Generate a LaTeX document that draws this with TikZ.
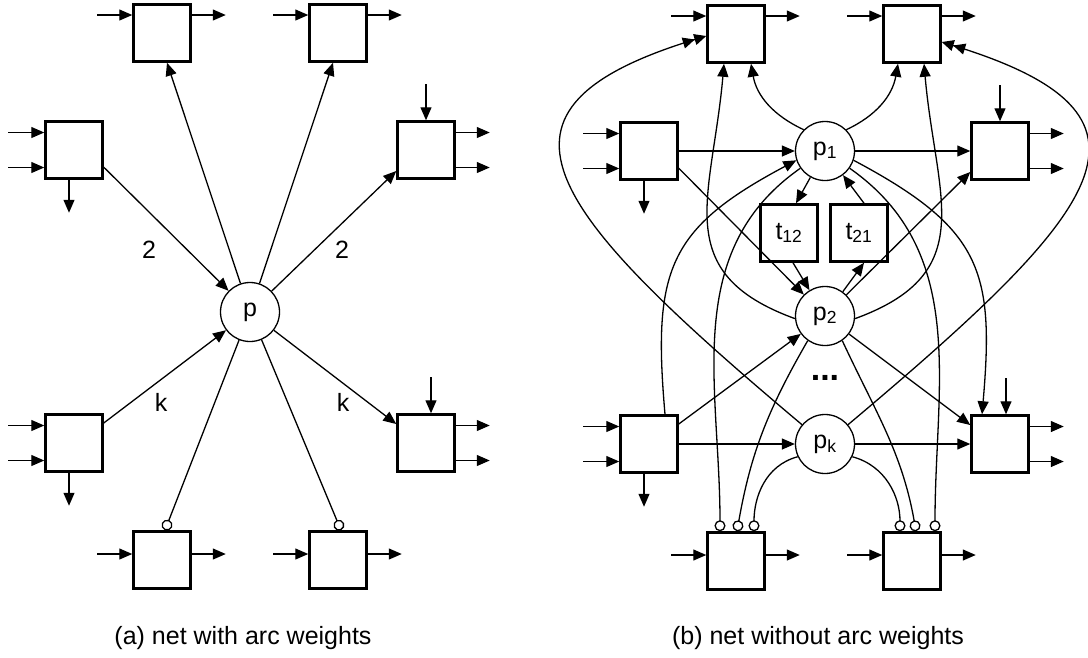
\documentclass[tikz,border=0pt]{standalone}
\usepackage{fontspec}
\setmainfont{Liberation Sans}
\usetikzlibrary{arrows.meta}

\begin{document}
\begin{tikzpicture}[x=1pt, y=-1pt, line width=1.3pt,
    >={Triangle[length=13pt,width=11pt]},
    font=\fontsize{25}{30}\selectfont,
    trans/.style={draw, rectangle, line width=2.5pt, minimum size=57pt, inner sep=0pt},
    place/.style={draw, circle, line width=1.3pt, minimum size=59pt, inner sep=0pt},
    inh/.style={-{Circle[open,length=11pt]}},
    dbl/.style={-{Triangle[length=12pt,width=11pt]Triangle[length=12pt,width=11pt]}}]
  \useasboundingbox (0,0) rectangle (1088,657);

  % (a) net with arc weights
  \node[trans] (ta1) at (162,33) {};
  \node[trans] (ta2) at (338,33) {};
  \node[trans] (lma) at (74,150) {};
  \node[trans] (rma) at (426,150) {};
  \node[place] (p) at (250,312) {p};
  \node[trans] (lla) at (74,443) {};
  \node[trans] (lra) at (426,443) {};
  \node[trans] (ba1) at (162,560) {};
  \node[trans] (ba2) at (338,560) {};

  \draw[->] (lma.-30) -- (p);
  \draw[->] (p) -- ([xshift=5pt]ta1.south);
  \draw[->] (p) -- ([xshift=-5pt]ta2.south);
  \draw[->] (p) -- ([yshift=-21pt]rma.west);
  \draw[->] ([yshift=20pt]lla.east) -- (p);
  \draw[->] (p) -- ([yshift=19pt]lra.west);
  \draw[inh] (p) -- ([xshift=3pt]ba1.north);
  \draw[inh] (p) -- ([xshift=3pt]ba2.north);

  \node (w2l) at (149,250) {2};
  \node (w2r) at (342,250) {2};
  \node (wkl) at (161,402) {k};
  \node (wkr) at (343,402) {k};

  % (b) net without arc weights
  \node[trans] (tb1) at (736,34) {};
  \node[trans] (tb2) at (912,34) {};
  \node[trans] (lmb) at (649,151) {};
  \node[trans] (rmb) at (1000,151) {};
  \node[place] (p1) at (825,151) {p\textsubscript{1}};
  \node[trans] (t12) at (789,233) {t\textsubscript{12}};
  \node[trans] (t21) at (859,233) {t\textsubscript{21}};
  \node[place] (p2) at (825,316) {p\textsubscript{2}};
  \node[font=\fontsize{34}{34}\selectfont\bfseries] (dots) at (825,378) {...};
  \node[place] (pk) at (825,444) {p\textsubscript{k}};
  \node[trans] (llb) at (649,444) {};
  \node[trans] (lrb) at (1000,444) {};
  \node[trans] (bb1) at (736,561) {};
  \node[trans] (bb2) at (912,561) {};

  \draw[->] (lmb) -- (p1);
  \draw[->] (lmb.-30) -- (p2);
  \draw[->] (p1) -- (rmb);
  \draw[->] (p2) -- ([yshift=-21pt]rmb.west);
  \draw[->] ([yshift=20pt]llb.east) -- (p2);
  \draw[->] (llb) -- (pk);
  \draw[->] (pk) -- (lrb);
  \draw[->] (p2) -- ([yshift=19pt]lrb.west);
  \draw[->] (p1) -- ([xshift=7pt]t12.north);
  \draw[->] ([xshift=4pt]t12.south) -- (p2);
  \draw[->] (p2) -- ([xshift=5pt]t21.south);
  \draw[->] ([xshift=5pt]t21.north) -- (p1);

  % arcs to the upper transitions
  \draw[->] (p1.135) to[out=155,in=-80] ([xshift=15pt]tb1.south);
  \draw[->] (p1.45) to[out=25,in=-100] ([xshift=-14pt]tb2.south);
  \draw[->] (p2.185) to[out=160,in=-95,looseness=1.3] ([xshift=-12pt]tb1.south);
  \draw[->] (p2.-5) to[out=20,in=-85,looseness=1.3] ([xshift=12pt]tb2.south);
  \draw[dbl] (pk.140) .. controls (542,206) and (467,109) .. ([yshift=-2pt]tb1.west);
  \draw[dbl] (pk.40) .. controls (1108,206) and (1180,115) .. ([yshift=-8pt]tb2.east);

  \draw[->] ([xshift=16pt]llb.north) to[out=95,in=208,looseness=1.3] (p1.198);
  \draw[->] (p1.-18) to[out=-28,in=85,looseness=1.3] ([xshift=-18pt]lrb.north);

  % inhibitor arcs
  \draw[inh] (p1.215) to[out=215,in=90] ([xshift=-16pt]bb1.north);
  \draw[inh] (p1.-35) to[out=-35,in=90] ([xshift=23pt]bb2.north);
  \draw[inh] (p2.235) to[out=240,in=80] ([xshift=1pt]bb1.north);
  \draw[inh] (p2.-55) to[out=-65,in=100] ([xshift=4pt]bb2.north);
  \draw[inh] (pk.205) to[out=195,in=90] ([xshift=18pt]bb1.north);
  \draw[inh] (pk.-25) to[out=-15,in=90] ([xshift=-12pt]bb2.north);

  % open inputs and outputs
  \foreach \b in {ta1,ta2,tb1,tb2} {
    \draw[<-] ([yshift=18pt]\b.west) -- +(-35,0);
    \draw[->] ([yshift=18pt]\b.east) -- +(34,0);
  }
  \foreach \b in {ba1,ba2,bb1,bb2} {
    \draw[<-] ([yshift=6pt]\b.west) -- +(-35,0);
    \draw[->] ([yshift=6pt]\b.east) -- +(34,0);
  }
  \foreach \b in {lma,lla,lmb,llb} {
    \draw[<-] ([yshift=17.5pt]\b.west) -- +(-36,0);
    \draw[<-] ([yshift=-17.5pt]\b.west) -- +(-36,0);
    \draw[->] ([xshift=-5pt]\b.south) -- +(0,33);
  }
  \foreach \b/\s in {rma/0,lra/5,rmb/0,lrb/6} {
    \draw[<-] ([xshift=\s pt]\b.north) -- +(0,-36);
    \draw[->] ([yshift=17.5pt]\b.east) -- +(34,0);
    \draw[->] ([yshift=-17.5pt]\b.east) -- +(34,0);
  }

  \node (capa) at (243,638) {(a) net with arc weights};
  \node (capb) at (818,638) {(b) net without arc weights};
\end{tikzpicture}
\end{document}
